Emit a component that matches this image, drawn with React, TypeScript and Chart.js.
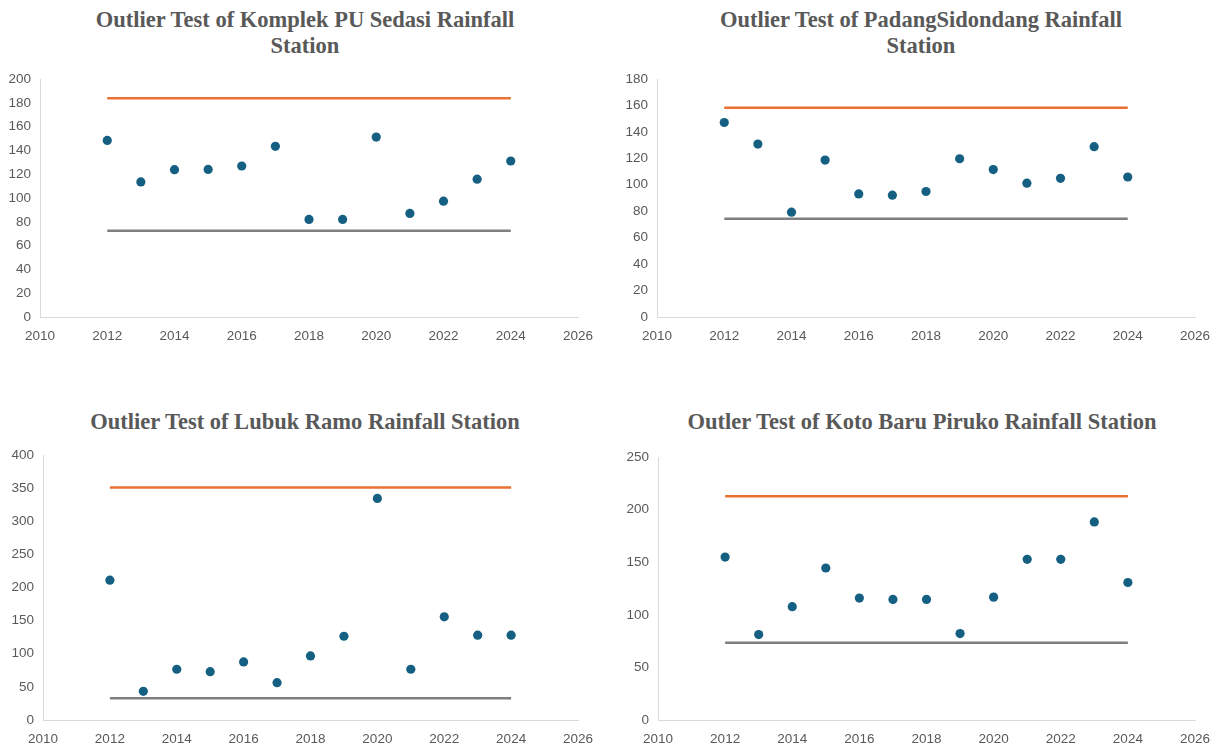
import React, { useEffect, useRef } from "react";
import { Chart, registerables } from "chart.js";

Chart.register(...registerables);

const years = [2012, 2013, 2014, 2015, 2016, 2017, 2018, 2019, 2020, 2021, 2022, 2023, 2024];

const komplekValues = [148.4, 113.5, 123.8, 124, 126.9, 143.4, 82, 82, 151.2, 87, 97.3, 115.8, 131.1];
const komplekUpper = 183.8;
const komplekLower = 72.5;

const padangValues = [147.1, 130.8, 79.3, 118.7, 93.1, 92.1, 94.9, 119.7, 111.5, 101.2, 104.9, 128.8, 105.9];
const padangUpper = 158.2;
const padangLower = 74.3;

const lubukValues = [211, 43.3, 76.6, 73, 87.7, 56.4, 96.7, 126.4, 334.5, 76.6, 155.7, 128, 128];
const lubukUpper = 351;
const lubukLower = 32.7;

const kotoValues = [154.9, 81.2, 107.7, 144.5, 115.9, 114.6, 114.6, 82.2, 116.8, 152.7, 152.7, 188.3, 130.7];
const kotoUpper = 212.8;
const kotoLower = 73.4;

const xMin = 2010;
const xMax = 2026;
const xStep = 2;

const titles = [
  ["Outlier Test of Komplek PU Sedasi Rainfall", "Station"],
  ["Outlier Test of PadangSidondang Rainfall", "Station"],
  ["Outlier Test of Lubuk Ramo Rainfall Station"],
  ["Outler Test of Koto Baru Piruko Rainfall Station"],
];

const POINT = "#156082";
const ORANGE = "#E97132";
const GRAY = "#7F7F7F";
const TICK = "#595959";
const AXIS = "#D9D9D9";

type Box = {
  left: number;
  top: number;
  width: number;
  height: number;
  yWidth: number;
  padTop: number;
  padRight: number;
  xHeight: number;
};

type Props = {
  values: number[];
  upper: number;
  lower: number;
  yMax: number;
  yStep: number;
  box: Box;
};

function OutlierChart({ values, upper, lower, yMax, yStep, box }: Props) {
  const ref = useRef<HTMLCanvasElement | null>(null);
  useEffect(() => {
    if (!ref.current) return;
    const first = years[0];
    const last = years[years.length - 1];
    const chart = new Chart(ref.current, {
      type: "scatter",
      data: {
        datasets: [
          {
            label: "Upper",
            data: [
              { x: first, y: upper },
              { x: last, y: upper },
            ],
            showLine: true,
            borderColor: ORANGE,
            borderWidth: 2.5,
            pointRadius: 0,
            order: 2,
          },
          {
            label: "Lower",
            data: [
              { x: first, y: lower },
              { x: last, y: lower },
            ],
            showLine: true,
            borderColor: GRAY,
            borderWidth: 2.5,
            pointRadius: 0,
            order: 2,
          },
          {
            label: "Rainfall",
            data: years.map((y, i) => ({ x: y, y: values[i] })),
            backgroundColor: POINT,
            borderColor: POINT,
            pointRadius: 4.6,
            borderWidth: 0,
            order: 1,
          },
        ],
      },
      options: {
        animation: false,
        responsive: false,
        maintainAspectRatio: false,
        layout: { padding: { top: box.padTop, right: box.padRight, left: 0, bottom: 0 } },
        plugins: { legend: { display: false }, tooltip: { enabled: false }, title: { display: false } },
        scales: {
          x: {
            type: "linear",
            min: xMin,
            max: xMax,
            ticks: {
              stepSize: xStep,
              color: TICK,
              font: { family: "Liberation Sans, Arial, sans-serif", size: 13.5 },
              padding: 3,
              callback: (v: any) => String(v),
            },
            grid: { display: false, drawTicks: true, tickLength: 8, tickColor: "rgba(0,0,0,0)" },
            border: { display: true, color: AXIS, width: 1 },
            afterFit: (s: any) => {
              s.height = box.xHeight;
            },
          },
          y: {
            min: 0,
            max: yMax,
            ticks: {
              stepSize: yStep,
              color: TICK,
              font: { family: "Liberation Sans, Arial, sans-serif", size: 13.5 },
              padding: 3,
            },
            grid: { display: false, drawTicks: true, tickLength: 6, tickColor: "rgba(0,0,0,0)" },
            border: { display: true, color: AXIS, width: 1 },
            afterFit: (s: any) => {
              s.width = box.yWidth;
            },
          },
        },
      },
    });
    return () => chart.destroy();
  }, []);
  return (
    <canvas
      ref={ref}
      width={box.width}
      height={box.height}
      style={{ position: "absolute", left: box.left, top: box.top, width: box.width, height: box.height }}
    />
  );
}

function Title({ lines, cx, top }: { lines: string[]; cx: number; top: number }) {
  return (
    <div
      style={{
        position: "absolute",
        left: cx - 300,
        top,
        width: 600,
        textAlign: "center",
        fontFamily: "'Liberation Serif', 'Times New Roman', serif",
        fontWeight: "bold",
        fontSize: 22.5,
        lineHeight: "26px",
        color: "#595959",
      }}
    >
      {lines.map((l, i) => (
        <div key={i}>{l}</div>
      ))}
    </div>
  );
}

export default function App() {
  return (
    <div style={{ position: "absolute", left: 0, top: 0, width: 1217, height: 749, background: "#fff" }}>
      <Title lines={titles[0]} cx={305} top={7} />
      <Title lines={titles[1]} cx={921} top={7} />
      <Title lines={titles[2]} cx={305} top={409} />
      <Title lines={titles[3]} cx={922} top={409} />
      <OutlierChart
        values={komplekValues}
        upper={komplekUpper}
        lower={komplekLower}
        yMax={200}
        yStep={20}
        box={{ left: 0, top: 64, width: 605, height: 286, yWidth: 40, padTop: 15, padRight: 27, xHeight: 33 }}
      />
      <OutlierChart
        values={padangValues}
        upper={padangUpper}
        lower={padangLower}
        yMax={180}
        yStep={20}
        box={{ left: 610, top: 64, width: 607, height: 286, yWidth: 47, padTop: 15, padRight: 22, xHeight: 33 }}
      />
      <OutlierChart
        values={lubukValues}
        upper={lubukUpper}
        lower={lubukLower}
        yMax={400}
        yStep={50}
        box={{ left: 0, top: 440, width: 605, height: 309, yWidth: 43, padTop: 15, padRight: 27, xHeight: 29 }}
      />
      <OutlierChart
        values={kotoValues}
        upper={kotoUpper}
        lower={kotoLower}
        yMax={250}
        yStep={50}
        box={{ left: 610, top: 440, width: 607, height: 309, yWidth: 48, padTop: 17, padRight: 22, xHeight: 29 }}
      />
    </div>
  );
}
